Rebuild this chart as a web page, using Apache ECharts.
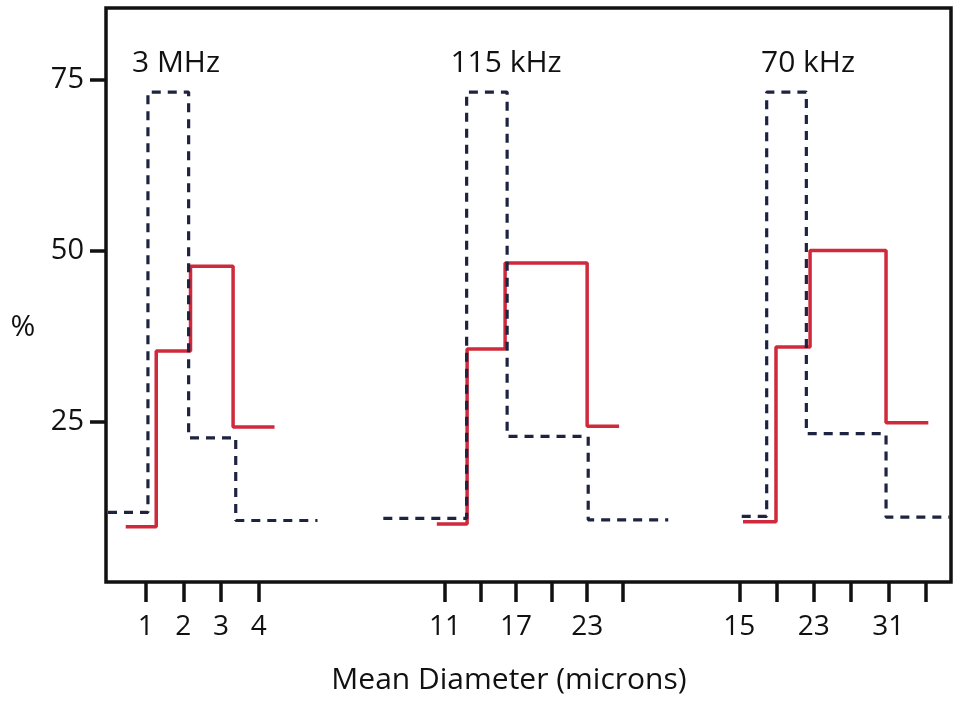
<!DOCTYPE html>
<html>
<head>
<meta charset="utf-8">
<script src="https://cdn.jsdelivr.net/npm/echarts@6/dist/echarts.min.js"></script>
<style>
  html, body { margin: 0; padding: 0; background: #fff; }
  #chart { width: 956px; height: 701px; }
</style>
</head>
<body>
<div id="chart"></div>
<script>
// bin edges (microns) and percentages
// 3 MHz
const mhz3DashEdges = [0, 1.06, 2.14, 3.39, 5.56];
const mhz3DashPct = [11.7, 73.2, 22.6, 10.5];
const mhz3SolidEdges = [0.47, 1.28, 2.19, 3.32, 4.42];
const mhz3SolidPct = [9.6, 35.3, 47.7, 24.2];
// 115 kHz
const khz115DashEdges = [5.78, 12.82, 16.24, 23.09, 29.85];
const khz115DashPct = [10.8, 73.2, 22.8, 10.6];
const khz115SolidEdges = [10.3, 12.86, 16.07, 23.0, 25.7];
const khz115SolidPct = [10.0, 35.6, 48.2, 24.3];
// 70 kHz
const khz70DashEdges = [15.26, 17.94, 22.2, 30.76, 37.6];
const khz70DashPct = [11.1, 73.2, 23.2, 11.0];
const khz70SolidEdges = [15.4, 18.94, 22.6, 30.76, 35.3];
const khz70SolidPct = [10.3, 35.9, 50.0, 24.8];

// axis ticks / labels
const pctTicks = [25, 50, 75];
const mhz3Ticks = [1, 2, 3, 4];
const mhz3Labels = [1, 2, 3, 4];
const khz115Ticks = [11, 14, 17, 20, 23, 26];
const khz115Labels = [11, 17, 23];
const khz70Ticks = [15, 19, 23, 27, 31, 35];
const khz70Labels = [15, 23, 31];

const groupNames = ['3 MHz', '115 kHz', '70 kHz'];

const FONT = '"Open Sans"';
const RED = '#cf2a3c';
const NAVY = '#1d2340';
const Y_MIN = 1.5, Y_MAX = 85.5;

function steps(edges, pct) {
  return edges.map((e, i) => [e, pct[Math.min(i, pct.length - 1)]]);
}

const plotTop = 8, plotHeight = 574;

function groupGrid(left, width) {
  return { left: left, width: width, top: plotTop, height: plotHeight, show: false };
}

function groupX(idx, min, max, ticks, labels) {
  return {
    type: 'value', gridIndex: idx, min: min, max: max,
    axisLine: { show: false },
    splitLine: { show: false },
    axisTick: {
      show: true, inside: false, length: 20, customValues: ticks,
      lineStyle: { color: '#111', width: 3.5 }
    },
    axisLabel: {
      show: true, customValues: labels, margin: 31,
      fontFamily: FONT, fontSize: 28, color: '#111'
    }
  };
}

function groupY(idx) {
  return {
    type: 'value', gridIndex: idx, min: Y_MIN, max: Y_MAX, show: false,
    splitLine: { show: false }
  };
}

function stepSeries(idx, data, dashed) {
  return {
    type: 'line', xAxisIndex: idx, yAxisIndex: idx, step: 'end',
    symbol: 'none', silent: true, z: dashed ? 3 : 2,
    data: data,
    lineStyle: dashed
      ? { color: NAVY, width: 3.2, type: [9, 7] }
      : { color: RED, width: 3.5 }
  };
}

function label(text, x, y, size) {
  return {
    type: 'text', x: x, y: y,
    style: { text: text, font: size + 'px ' + FONT, fill: '#111',
             align: 'center', verticalAlign: 'middle' }
  };
}

const option = {
  backgroundColor: '#fff',
  animation: false,
  grid: [
    { left: 106, width: 845, top: plotTop, height: plotHeight, show: true,
      borderColor: '#111', borderWidth: 3.5, backgroundColor: 'transparent' },
    groupGrid(108, 211),
    groupGrid(380, 290),
    groupGrid(730, 220)
  ],
  xAxis: [
    { type: 'value', gridIndex: 0, min: 0, max: 1, show: false },
    groupX(1, 0, 5.6, mhz3Ticks, mhz3Labels),
    groupX(2, 5.5, 30, khz115Ticks, khz115Labels),
    groupX(3, 14, 37.63, khz70Ticks, khz70Labels)
  ],
  yAxis: [
    {
      type: 'value', gridIndex: 0, min: Y_MIN, max: Y_MAX,
      axisLine: { show: false },
      splitLine: { show: false },
      axisTick: {
        show: true, inside: false, length: 16, customValues: pctTicks,
        lineStyle: { color: '#111', width: 3.5 }
      },
      axisLabel: {
        show: true, customValues: pctTicks, margin: 22,
        fontFamily: FONT, fontSize: 29, color: '#111'
      }
    },
    groupY(1), groupY(2), groupY(3)
  ],
  series: [
    stepSeries(1, steps(mhz3SolidEdges, mhz3SolidPct), false),
    stepSeries(1, steps(mhz3DashEdges, mhz3DashPct), true),
    stepSeries(2, steps(khz115SolidEdges, khz115SolidPct), false),
    stepSeries(2, steps(khz115DashEdges, khz115DashPct), true),
    stepSeries(3, steps(khz70SolidEdges, khz70SolidPct), false),
    stepSeries(3, steps(khz70DashEdges, khz70DashPct), true)
  ],
  graphic: [
    label(groupNames[0], 176, 63, 30),
    label(groupNames[1], 506, 63, 30),
    label(groupNames[2], 808, 63, 30),
    label('%', 23, 327, 30),
    label('Mean Diameter (microns)', 509, 680, 30)
  ]
};

const myChart = echarts.init(document.getElementById('chart'));
myChart.setOption(option);
</script>
</body>
</html>
